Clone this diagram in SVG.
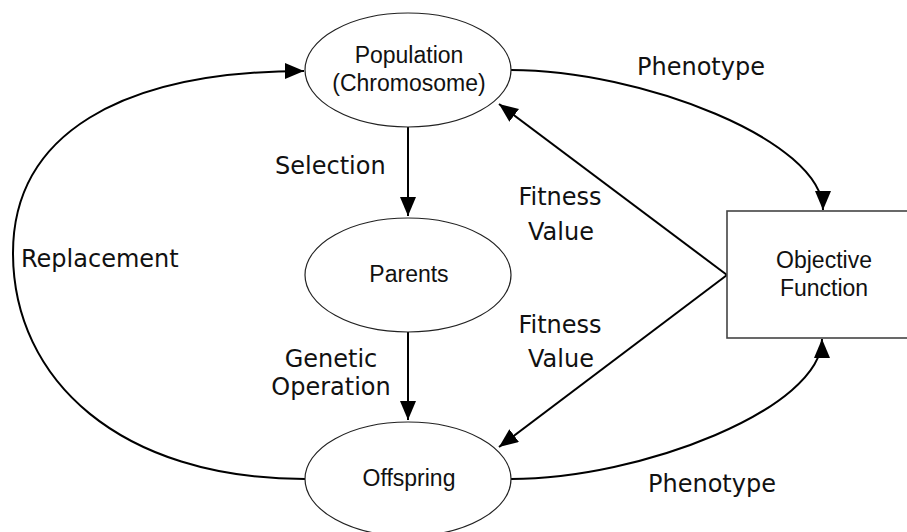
<svg xmlns="http://www.w3.org/2000/svg" width="907" height="532" viewBox="0 0 907 532">
<style>
.node{fill:#fff;stroke:#222;stroke-width:1.2}
.box{fill:#fff;stroke:#444;stroke-width:1.6}
.nt{font-family:"Liberation Sans",Arial,sans-serif;font-size:23px;fill:#111;text-anchor:middle}
.lb{font-family:"DejaVu Sans",Verdana,sans-serif;font-size:24px;fill:#111}
.c{fill:none;stroke:#000;stroke-width:2}
</style>
<defs>
<marker id="ah" markerUnits="userSpaceOnUse" markerWidth="22" markerHeight="18" refX="19" refY="8" orient="auto">
<path d="M0,0 L19,8 L0,16 z" fill="#000"/>
</marker>
</defs>
<rect width="907" height="532" fill="#fff"/>
<g id="connectors">
<path class="c" d="M408,127 L408,216" marker-end="url(#ah)"/>
<path class="c" d="M408,332 L408,420" marker-end="url(#ah)"/>
<path class="c" d="M727,275 L499,104" marker-end="url(#ah)"/>
<path class="c" d="M727,275 L499,447" marker-end="url(#ah)"/>
<path class="c" d="M511,70 C640,70 823,140 823,210" marker-end="url(#ah)"/>
<path class="c" d="M511,479 C640,479 822,409 822,339" marker-end="url(#ah)"/>
<path class="c" d="M305,479 C120,479 13,380 13,253 C13,135 120,71 304,71" marker-end="url(#ah)"/>
</g>
<g id="population">
<ellipse class="node" cx="408" cy="70" rx="103" ry="57"/>
<text class="nt" x="409" y="63">Population</text>
<text class="nt" x="409" y="91">(Chromosome)</text>
</g>
<g id="parents">
<ellipse class="node" cx="408" cy="275" rx="103" ry="57"/>
<text class="nt" x="409" y="282">Parents</text>
</g>
<g id="offspring">
<ellipse class="node" cx="408" cy="479" rx="103" ry="57"/>
<text class="nt" x="409" y="486">Offspring</text>
</g>
<g id="objective">
<rect class="box" x="727" y="211" width="196" height="127"/>
<text class="nt" x="824" y="268">Objective</text>
<text class="nt" x="824" y="296">Function</text>
</g>
<g id="labels">
<text class="lb" x="637" y="75">Phenotype</text>
<text class="lb" x="648" y="492">Phenotype</text>
<text class="lb" x="275" y="174">Selection</text>
<text class="lb" x="21" y="267">Replacement</text>
<text class="lb" x="331" y="367" text-anchor="middle">Genetic</text>
<text class="lb" x="331" y="395" text-anchor="middle">Operation</text>
<text class="lb" x="560" y="205" text-anchor="middle">Fitness</text>
<text class="lb" x="561" y="240" text-anchor="middle">Value</text>
<text class="lb" x="560" y="333" text-anchor="middle">Fitness</text>
<text class="lb" x="561" y="367" text-anchor="middle">Value</text>
</g>
</svg>
